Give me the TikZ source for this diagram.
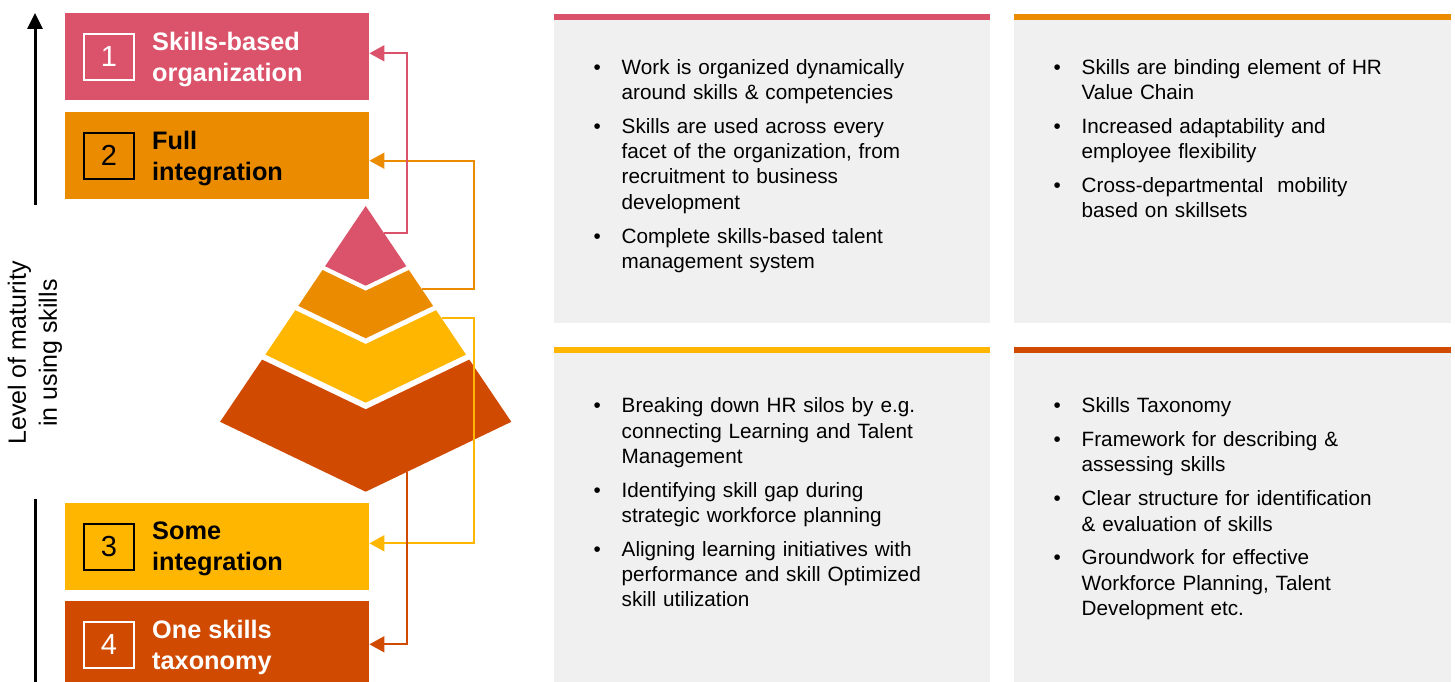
\documentclass[tikz,border=0pt]{standalone}
\usepackage{fontspec}
\setmainfont{Liberation Sans}
\usetikzlibrary{arrows.meta,calc}

\definecolor{rose}{HTML}{DB536A}
\definecolor{tangerine}{HTML}{EB8C00}
\definecolor{amber}{HTML}{FFB600}
\definecolor{rust}{HTML}{D04A02}
\definecolor{panelgray}{HTML}{F0F0F0}

% one bullet point with hanging indent
\newcommand{\bulitem}[1]{\par\hangindent=28pt\hangafter=1\noindent\makebox[28pt][l]{\textbullet}\strut#1\par}
\newcommand{\itemgap}{\vspace{8.5pt}}

\tikzset{
  levelbox/.style={rectangle, minimum width=304pt, minimum height=87pt, inner sep=0pt, anchor=north west},
  numbox/.style={rectangle, draw, line width=2pt, minimum width=50pt, minimum height=46pt, inner sep=0pt,
    font=\fontsize{29}{29}\selectfont},
  levellabel/.style={anchor=west, align=left, inner sep=0pt, font=\fontsize{25.3}{31}\selectfont\bfseries},
  paneltext/.style={anchor=north west, inner sep=0pt, text width=390pt, align=left,
    font=\fontsize{20.7}{25.3}\selectfont, text=black},
  conn/.style={line width=1.8pt, -{Triangle[length=15pt,width=16pt]}},
  axis/.style={line width=3pt},
}

\begin{document}
\begin{tikzpicture}[x=1pt, y=-1pt]
\useasboundingbox (0,0) rectangle (1455,682);

% ---- maturity axis ----
\coordinate (axtop) at (35,13);
\coordinate (axmid) at (35,205);
\coordinate (axlow) at (35,499);
\coordinate (axbot) at (35,690);
\draw[axis, -{Triangle[length=16pt,width=15pt]}] (axmid) -- (axtop);
\draw[axis] (axlow) -- (axbot);
\node[rotate=90, align=center, inner sep=0pt, font=\fontsize{25}{31}\selectfont] (axlabel) at (35,353)
  {Level of maturity\\in using skills};

% ---- level boxes ----
\node[levelbox, fill=rose]      (b1) at (65,13)  {};
\node[levelbox, fill=tangerine] (b2) at (65,112) {};
\node[levelbox, fill=amber]     (b3) at (65,503) {};
\node[levelbox, fill=rust]      (b4) at (65,601) {};

\node[numbox, draw=white, text=white] (n1) at ($(b1.west)+(44,0)$) {1};
\node[numbox, draw=black, text=black] (n2) at ($(b2.west)+(44,0)$) {2};
\node[numbox, draw=black, text=black] (n3) at ($(b3.west)+(44,0)$) {3};
\node[numbox, draw=white, text=white] (n4) at ($(b4.west)+(44,0)$) {4};

\node[levellabel, text=white] (l1) at ($(b1.west)+(87,2.5)$) {Skills-based\\organization};
\node[levellabel, text=black] (l2) at ($(b2.west)+(87,2.5)$) {Full\\integration};
\node[levellabel, text=black] (l3) at ($(b3.west)+(87,2.5)$) {Some\\integration};
\node[levellabel, text=white] (l4) at ($(b4.west)+(87,2.5)$) {One skills\\taxonomy};

% ---- pyramid ----
\fill[rose]      (365.7,206) -- (406.3,266.2) -- (365.7,285.7) -- (325.1,266.2) -- cycle;
\fill[tangerine] (322.5,270.0) -- (365.7,290.7) -- (408.9,270.0) -- (433.1,305.9)
                 -- (365.7,338.3) -- (298.3,305.9) -- cycle;
\fill[amber]     (295.3,310.2) -- (365.7,344) -- (436.1,310.2) -- (466.0,354.6)
                 -- (365.7,402.7) -- (265.4,354.6) -- cycle;
\fill[rust]      (262.1,359.6) -- (365.7,409.3) -- (469.3,359.6) -- (511.3,421.8)
                 -- (365.7,491.7) -- (220.1,421.8) -- cycle;

% connector start points on the layers and their corners
\coordinate (s1) at (383.7,232.7);
\coordinate (s2) at (421.7,289);
\coordinate (s3) at (441.5,318.3);
\coordinate (s4) at (406.7,472);
\coordinate (k1) at (406.7,53.3);
\coordinate (k2) at (474.3,160.7);
\coordinate (k3) at (474.3,543.3);
\coordinate (k4) at (406.7,644.3);

\draw[conn, tangerine] (s2) -| (k2) -- (b2.east |- k2);
\draw[conn, amber]     (s3) -| (k3) -- (b3.east |- k3);
\draw[conn, rose]      (s1) -| (k1) -- (b1.east |- k1);
\draw[conn, rust]      (s4) -- (k4) -- (b4.east |- k4);

% ---- description panels ----
\fill[panelgray] (554,20) rectangle (990,323);
\fill[rose]      (554,14) rectangle (990,20);
\fill[panelgray] (1014,20) rectangle (1451,323);
\fill[tangerine] (1014,14) rectangle (1451,20);
\fill[panelgray] (554,353) rectangle (990,690);
\fill[amber]     (554,347) rectangle (990,353);
\fill[panelgray] (1014,353) rectangle (1451,690);
\fill[rust]      (1014,347) rectangle (1451,353);

\node[paneltext] (t1) at (593.5,48.8) {%
\bulitem{Work is organized dynamically\newline around skills \& competencies}\itemgap
\bulitem{Skills are used across every\newline facet of the organization, from\newline recruitment to business\newline development}\itemgap
\bulitem{Complete skills-based talent\newline management system}};

\node[paneltext] (t2) at (1053.5,48.8) {%
\bulitem{Skills are binding element of HR\newline Value Chain}\itemgap
\bulitem{Increased adaptability and\newline employee flexibility}\itemgap
\bulitem{Cross-departmental\ \ mobility\newline based on skillsets}};

\node[paneltext] (t3) at (593.5,387.3) {%
\bulitem{Breaking down HR silos by e.g.\newline connecting Learning and Talent\newline Management}\itemgap
\bulitem{Identifying skill gap during\newline strategic workforce planning}\itemgap
\bulitem{Aligning learning initiatives with\newline performance and skill Optimized\newline skill utilization}};

\node[paneltext] (t4) at (1053.5,387.3) {%
\bulitem{Skills Taxonomy}\itemgap
\bulitem{Framework for describing \&\newline assessing skills}\itemgap
\bulitem{Clear structure for identification\newline \& evaluation of skills}\itemgap
\bulitem{Groundwork for effective\newline Workforce Planning, Talent\newline Development etc.}};
\end{tikzpicture}
\end{document}
